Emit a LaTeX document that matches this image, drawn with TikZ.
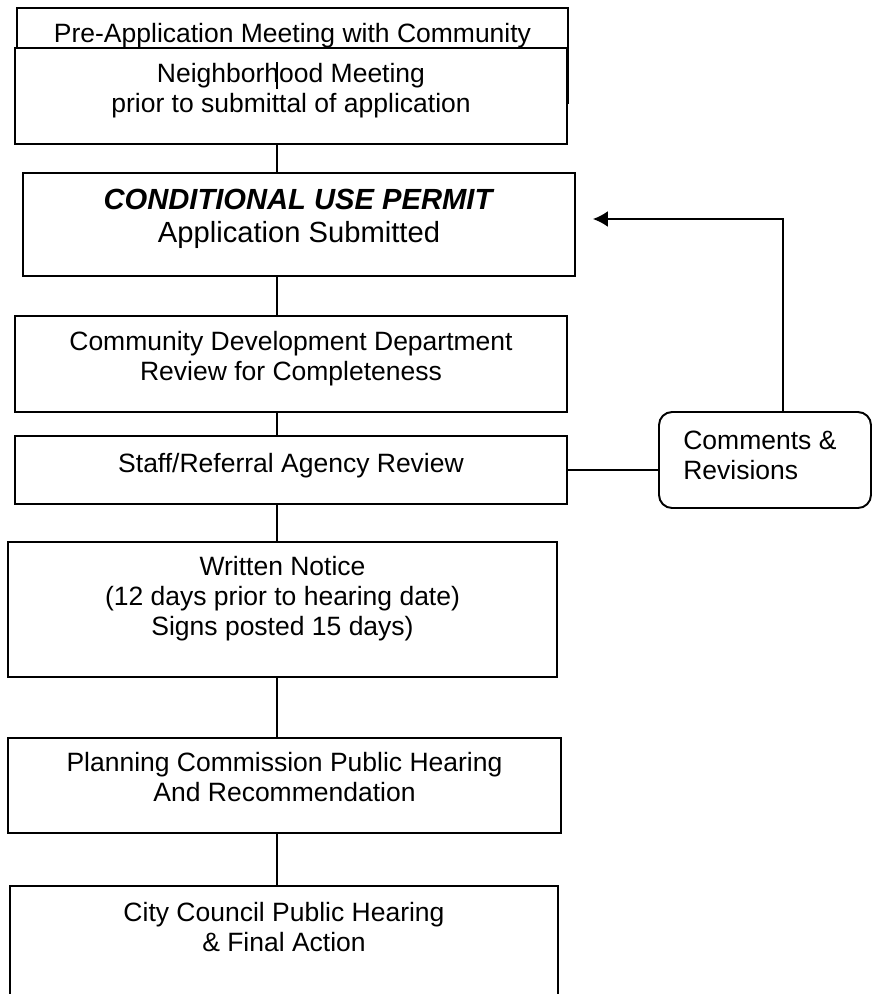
\documentclass[tikz,border=0pt]{standalone}
\usepackage{fontspec}
\setmainfont{Liberation Sans}
\usetikzlibrary{arrows.meta}

\begin{document}
\begin{tikzpicture}[x=0.02cm,y=-0.02cm]

    \tikzset{
      box/.style={
        draw,
        fill=white,
        line width=1.1pt,
        inner sep=0pt,
      },
      txt/.style={
        anchor=north,
        align=center,
        inner sep=0pt,
        font=\fontsize{15.08}{17.07}\selectfont,
        execute at begin node=\strut,
      },
      link/.style={line width=1.1pt},
    }
    \clip (0,0) rectangle (872,994);
    \coordinate (spine) at (277,0);
    \coordinate (back) at (783,219);

	\node[box, minimum width=11.02cm, minimum height=1.90cm] (pre) at (292.5,55.5) {};
	\node[txt] (pre-t) at (292.5,21) {Pre-Application Meeting with Community};
	\node[box, minimum width=11.04cm, minimum height=1.92cm] (neigh) at (291,96) {};
	\node[txt] (neigh-t) at (291,63) {Neighborhood Meeting\\prior to submittal of application};
	\draw[line width=0.6pt] (neigh.north -| spine) ++(0,15) -- ++(0,27);
	\node[box, minimum width=11.04cm, minimum height=2.06cm] (cup) at (299,224.5) {};
	\node[txt, font=\fontsize{16.6}{18.8}\selectfont] (cup-t) at (299,189) {\textbf{\textit{CONDITIONAL USE PERMIT}}\\Application Submitted};
	\node[box, minimum width=11.04cm, minimum height=1.92cm] (cdd) at (291,364) {};
	\node[txt] (cdd-t) at (291,331) {Community Development Department\\Review for Completeness};
	\node[box, minimum width=11.04cm, minimum height=1.36cm] (staff) at (291,470) {};
	\node[txt] (staff-t) at (291,451) {Staff/Referral Agency Review};
	\node[box, minimum width=10.98cm, minimum height=2.70cm] (written) at (282.5,609.5) {};
	\node[txt] (written-t) at (282.5,556) {Written Notice\\(12 days prior to hearing date)\\Signs posted 15 days)};
	\node[box, minimum width=11.06cm, minimum height=1.90cm] (planning) at (284.5,785.5) {};
	\node[txt] (planning-t) at (284.5,752) {Planning Commission Public Hearing\\And Recommendation};
	\node[box, minimum width=10.96cm, minimum height=2.48cm] (city) at (284,948) {};
	\node[txt] (city-t) at (284,902) {City Council Public Hearing\\\& Final Action};
	\node[box, rounded corners=0.26cm, minimum width=4.24cm, minimum height=1.92cm] (comments) at (765,460) {};
	\node[txt, anchor=north west, align=left] (comments-t) at (683,431) {Comments \&\\Revisions};

	\draw[link] (neigh.south -| spine) -- (cup.north -| spine);
	\draw[link] (cup.south -| spine) -- (cdd.north -| spine);
	\draw[link] (cdd.south -| spine) -- (staff.north -| spine);
	\draw[link] (staff.south -| spine) -- (written.north -| spine);
	\draw[link] (written.south -| spine) -- (planning.north -| spine);
	\draw[link] (planning.south -| spine) -- (city.north -| spine);
	\draw[link] (staff.east) -- (staff.east -| comments.west);
	\draw[link, -{Latex[length=0.3cm,width=0.32cm]}, shorten >=0.34cm] (comments.north -| back) -- (back) -- (back -| cup.east);

\end{tikzpicture}
\end{document}
